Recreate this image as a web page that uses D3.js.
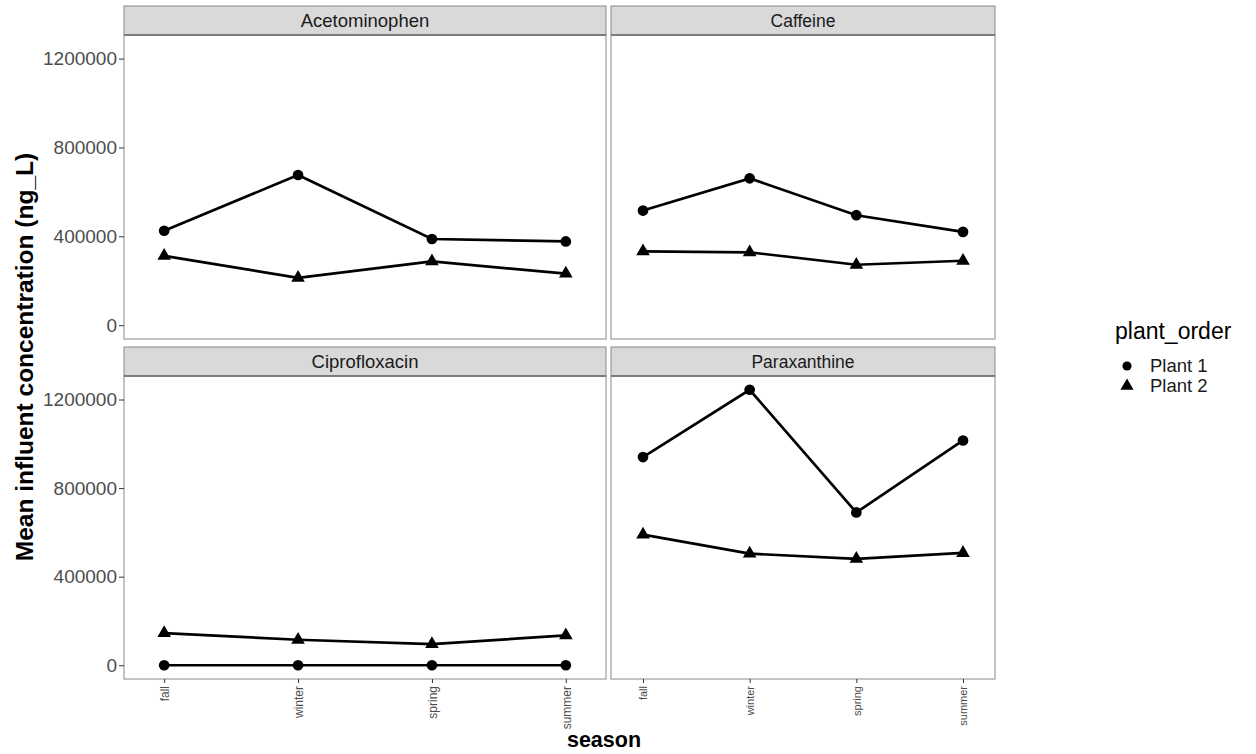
<!DOCTYPE html>
<html>
<head>
<meta charset="utf-8">
<script src="https://cdn.jsdelivr.net/npm/d3@7"></script>
<style>
  body { margin: 0; background: #fff; }
  text { font-family: "Liberation Sans", Arial, sans-serif; }
</style>
</head>
<body>
<div id="chart"></div>
<script>
const seasons = ['fall', 'winter', 'spring', 'summer'];
const compounds = ['Acetominophen', 'Caffeine', 'Ciprofloxacin', 'Paraxanthine'];
const plants = ['Plant 1', 'Plant 2'];

// mean influent concentration, one array per compound, in season order
const plant1 = {
  Acetominophen: [425000, 676000, 388000, 377000],
  Caffeine: [516000, 661000, 495000, 420000],
  Ciprofloxacin: [0, 0, 0, 0],
  Paraxanthine: [940000, 1244000, 690000, 1015000]
};
const plant2 = {
  Acetominophen: [312000, 213000, 287000, 232000],
  Caffeine: [332000, 328000, 272000, 290000],
  Ciprofloxacin: [145000, 115000, 95000, 135000],
  Paraxanthine: [590000, 504000, 480000, 507000]
};
const yTicks = [0, 400000, 800000, 1200000];

const width = 1256;
const height = 754;

const svg = d3.select('#chart')
  .append('svg')
  .attr('width', width)
  .attr('height', height);

// panel boxes (plot area, without strip); the left column is wider in the original
const cols = [[124, 606], [611, 995]];
const rows = [[35, 339], [376, 679]];
const stripH = 29;
const stripFont = [18.5, 17.5];
const xTickFont = [12, 11];

// shared y scale, ggplot style 5% expansion
const allValues = compounds.flatMap(c => plant1[c].concat(plant2[c]));
const yMin = d3.min(allValues);
const yMax = d3.max(allValues);
const pad = (yMax - yMin) * 0.05;

const line = d3.line();

compounds.forEach((compound, i) => {
  const col = i % 2;
  const [x0, x1] = cols[col];
  const [y0, y1] = rows[Math.floor(i / 2)];

  const x = d3.scalePoint().domain(seasons).range([x0, x1]).padding(0.3);
  const y = d3.scaleLinear().domain([yMin - pad, yMax + pad]).range([y1, y0]);

  const g = svg.append('g');

  // strip
  g.append('rect')
    .attr('x', x0).attr('y', y0 - stripH)
    .attr('width', x1 - x0).attr('height', stripH)
    .attr('fill', '#d9d9d9')
    .attr('stroke', '#8a8a8a');
  g.append('line')
    .attr('x1', x0).attr('x2', x1)
    .attr('y1', y0).attr('y2', y0)
    .attr('stroke', '#555').attr('stroke-width', 1.5);
  g.append('text')
    .attr('x', (x0 + x1) / 2).attr('y', y0 - stripH / 2)
    .attr('text-anchor', 'middle').attr('dy', '0.35em')
    .attr('font-size', stripFont[col]).attr('fill', '#1a1a1a')
    .text(compound);

  // panel border
  g.append('rect')
    .attr('x', x0).attr('y', y0)
    .attr('width', x1 - x0).attr('height', y1 - y0)
    .attr('fill', 'none').attr('stroke', '#8a8a8a');

  // y axis only on the left column
  if (col === 0) {
    const yAxis = g.append('g')
      .attr('transform', `translate(${x0},0)`)
      .call(d3.axisLeft(y).tickValues(yTicks).tickSize(5).tickPadding(2).tickFormat(d3.format('d')));
    yAxis.select('.domain').remove();
    yAxis.selectAll('line').attr('stroke', '#333');
    yAxis.selectAll('text').attr('font-size', 19).attr('fill', '#4d4d4d')
      .style('font-family', '"Liberation Sans", Arial, sans-serif');
  }

  // x axis only on the bottom row
  if (i >= 2) {
    const xAxis = g.append('g')
      .attr('transform', `translate(0,${y1})`)
      .call(d3.axisBottom(x).tickSize(4).tickPadding(3));
    xAxis.select('.domain').remove();
    xAxis.selectAll('line').attr('stroke', '#333');
    xAxis.selectAll('text')
      .attr('font-size', xTickFont[col]).attr('fill', '#4d4d4d')
      .style('font-family', '"Liberation Sans", Arial, sans-serif')
      .attr('text-anchor', 'end')
      .attr('transform', 'rotate(-90)')
      .attr('x', -7).attr('y', 0).attr('dy', '0.35em');
  }

  // lines and points
  [plant1, plant2].forEach((series, s) => {
    const pts = seasons.map((season, k) => [x(season), y(series[compound][k])]);
    g.append('path')
      .attr('d', line(pts))
      .attr('fill', 'none')
      .attr('stroke', '#000')
      .attr('stroke-width', 2.7);
    g.selectAll(null)
      .data(pts)
      .enter()
      .append('path')
      .attr('transform', d => `translate(${d[0]},${d[1]})`)
      .attr('d', d3.symbol().type(s === 0 ? d3.symbolCircle : d3.symbolTriangle).size(s === 0 ? 90 : 80))
      .attr('fill', '#000');
  });
});

// axis titles
svg.append('text')
  .attr('x', 604).attr('y', 747)
  .attr('text-anchor', 'middle')
  .attr('font-size', 21.5).attr('font-weight', 'bold')
  .text('season');

svg.append('text')
  .attr('transform', `translate(33,${(rows[0][0] + rows[1][1]) / 2}) rotate(-90)`)
  .attr('text-anchor', 'middle')
  .attr('font-size', 24.5).attr('font-weight', 'bold')
  .text('Mean influent concentration (ng_L)');

// legend
const legend = svg.append('g').attr('transform', 'translate(1115,0)');
legend.append('text')
  .attr('x', 0).attr('y', 339)
  .attr('font-size', 23).attr('fill', '#000')
  .text('plant_order');
plants.forEach((p, k) => {
  const ly = 366 + k * 20;
  legend.append('path')
    .attr('transform', `translate(12,${ly})`)
    .attr('d', d3.symbol().type(k === 0 ? d3.symbolCircle : d3.symbolTriangle).size(k === 0 ? 65 : 75))
    .attr('fill', '#000');
  legend.append('text')
    .attr('x', 35).attr('y', ly).attr('dy', '0.35em')
    .attr('font-size', 18.5).attr('fill', '#1a1a1a')
    .text(p);
});
</script>
</body>
</html>
